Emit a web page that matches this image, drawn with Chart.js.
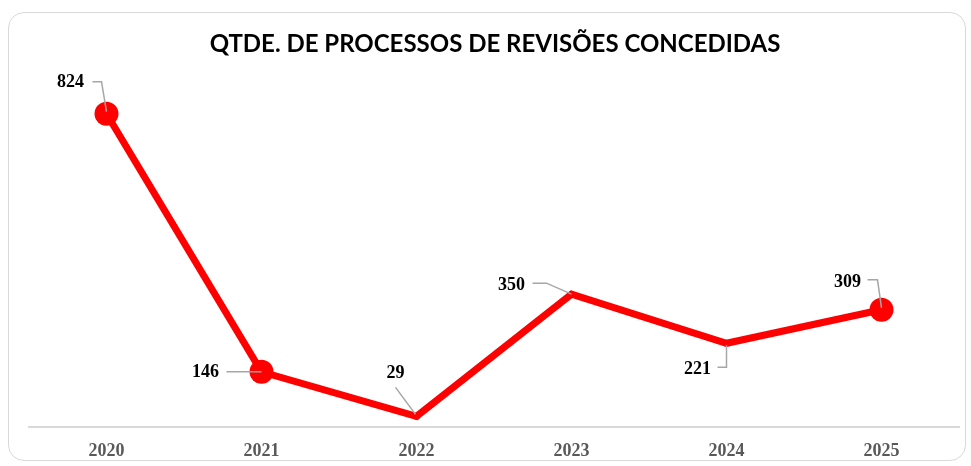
<!DOCTYPE html>
<html>
<head>
<meta charset="utf-8">
<script src="https://cdn.jsdelivr.net/npm/chart.js@4"></script>
<style>
  html, body { margin: 0; padding: 0; background: #ffffff; overflow: hidden; }
  #frame { position: absolute; left: 8px; top: 12px; width: 958px; height: 449px;
           border: 1.5px solid #d9d9d9; border-radius: 16px; box-sizing: border-box; }
  #wrap { position: absolute; left: 0; top: 0; width: 971px; height: 467px; }
</style>
</head>
<body>
<div id="frame"></div>
<div id="wrap"><canvas id="c" width="971" height="467"></canvas></div>
<script>
const categories = ['2020', '2021', '2022', '2023', '2024', '2025'];
const values = [824, 146, 29, 350, 221, 309];
const chartTitle = 'QTDE. DE PROCESSOS DE REVISÕES CONCEDIDAS';

// label placement (style): text offset and leader polyline relative to the point
const labelLayout = [
  { dx: -36, dy: -31, leader: [[-14, -32], [-5, -32], [0, -2]] },
  { dx: -56, dy: 1,   leader: [[-35, 0], [0, 0]] },
  { dx: -21, dy: -43, leader: [[-21, -29], [-1, -2]] },
  { dx: -60, dy: -9,  leader: [[-39, -11], [-25, -11], [0, 0]] },
  { dx: -29, dy: 26,  leader: [[-9, 24], [0, 24], [0, 2]] },
  { dx: -34, dy: -27, leader: [[-14, -30], [-4, -30], [0, -2]] }
];

const leaderLabels = {
  id: 'leaderLabels',
  afterDatasetsDraw(chart) {
    const ctx = chart.ctx;
    const meta = chart.getDatasetMeta(0);
    const ds = chart.data.datasets[0];
    ctx.save();
    meta.data.forEach((pt, i) => {
      const L = labelLayout[i];
      ctx.strokeStyle = '#a6a6a6';
      ctx.lineWidth = 1.5;
      ctx.beginPath();
      L.leader.forEach((p, j) => {
        const x = pt.x + p[0], y = pt.y + p[1];
        if (j === 0) ctx.moveTo(x, y); else ctx.lineTo(x, y);
      });
      ctx.stroke();
      ctx.fillStyle = '#000000';
      ctx.font = 'bold 18px "Liberation Serif", "Times New Roman", serif';
      ctx.textAlign = 'center';
      ctx.textBaseline = 'middle';
      ctx.fillText(String(ds.data[i]), pt.x + L.dx, pt.y + L.dy);
    });
    ctx.restore();
  }
};

new Chart(document.getElementById('c'), {
  type: 'line',
  data: {
    labels: categories,
    datasets: [{
      data: values,
      borderColor: '#ff0000',
      backgroundColor: '#ff0000',
      borderWidth: 7,
      pointRadius: [12, 12, 3.5, 3.5, 3.5, 12],
      pointBorderWidth: 0,
      pointBackgroundColor: '#ff0000',
      tension: 0,
      clip: false
    }]
  },
  options: {
    responsive: false,
    animation: false,
    layout: { padding: { left: 29, right: 10, top: 0, bottom: 0 } },
    plugins: {
      legend: { display: false },
      tooltip: { enabled: false },
      title: {
        display: true,
        text: chartTitle,
        color: '#000000',
        font: { family: 'Lato, "Open Sans", sans-serif', size: 24, weight: 'bold' },
        padding: { top: 30, bottom: 26 }
      }
    },
    scales: {
      x: {
        offset: true,
        grid: { display: false },
        border: { display: true, color: '#d9d9d9', width: 2 },
        ticks: {
          color: '#595959',
          font: { family: '"Liberation Serif", "Times New Roman", serif', size: 18, weight: 'bold' },
          padding: 5
        }
      },
      y: {
        display: false,
        min: 0,
        max: 900
      }
    }
  },
  plugins: [leaderLabels]
});
</script>
</body>
</html>
